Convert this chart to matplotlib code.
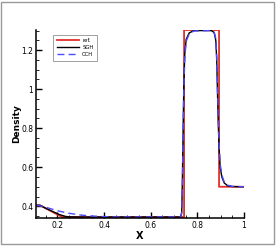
import matplotlib
matplotlib.use("Agg")
import matplotlib.pyplot as plt
from matplotlib.patches import Rectangle
from matplotlib.ticker import MultipleLocator, FuncFormatter

# reference (exact) solution
ref_x = [0.108, 0.125, 0.22, 0.743, 0.743, 0.893, 0.893, 1.0]
ref_y = [0.405, 0.405, 0.345, 0.345, 1.303, 1.303, 0.5, 0.5]

# SGH scheme
sgh_x = [0.108, 0.125, 0.15, 0.18, 0.21, 0.235, 0.25, 0.3, 0.728, 0.733, 0.736,
         0.739, 0.742, 0.746, 0.752, 0.765, 0.785, 0.86, 0.872, 0.879, 0.883,
         0.886, 0.889, 0.893, 0.898, 0.905, 0.915, 0.93, 0.95, 1.0]
sgh_y = [0.405, 0.405, 0.39, 0.373, 0.357, 0.348, 0.346, 0.345, 0.345, 0.37, 0.55,
         0.8, 1.02, 1.18, 1.255, 1.288, 1.3, 1.3, 1.29, 1.25, 1.15,
         1.0, 0.85, 0.7, 0.6, 0.55, 0.52, 0.505, 0.501, 0.5]

# CCH scheme
cch_x = [0.108, 0.12, 0.15, 0.2, 0.25, 0.3, 0.35, 0.4, 0.45, 0.728, 0.733, 0.736,
         0.739, 0.742, 0.746, 0.752, 0.765, 0.785, 0.86, 0.872, 0.879, 0.883,
         0.886, 0.889, 0.893, 0.898, 0.905, 0.915, 0.93, 0.95, 1.0]
cch_y = [0.405, 0.404, 0.395, 0.377, 0.364, 0.355, 0.35, 0.347, 0.345, 0.345, 0.365, 0.52,
         0.78, 1.0, 1.16, 1.245, 1.283, 1.298, 1.3, 1.292, 1.26, 1.17,
         1.02, 0.87, 0.72, 0.615, 0.56, 0.525, 0.508, 0.502, 0.5]

fig = plt.figure(figsize=(2.77, 2.46), dpi=100)
ax = fig.add_axes([36 / 277, 1 - 218 / 246, 208 / 277, 188 / 246])

ax.plot(ref_x, ref_y, color="#e0302a", lw=1.3, label="ref.")
ax.plot(sgh_x, sgh_y, color="black", lw=1.0, label="SGH")
ax.plot(cch_x, cch_y, color="#4a4aff", lw=1.0, ls=(0, (5, 3)), label="CCH")

ax.set_xlim(0.108, 1.0)
ax.set_ylim(0.34, 1.303)

for s in ("top", "right"):
    ax.spines[s].set_visible(False)
for s in ("left", "bottom"):
    ax.spines[s].set_linewidth(1.1)

ax.xaxis.set_major_locator(MultipleLocator(0.2))
ax.xaxis.set_minor_locator(MultipleLocator(0.05))
ax.yaxis.set_major_locator(MultipleLocator(0.2))
ax.yaxis.set_minor_locator(MultipleLocator(0.05))
fmt = FuncFormatter(lambda v, p: f"{v:g}")
ax.xaxis.set_major_formatter(fmt)
ax.yaxis.set_major_formatter(fmt)
ax.tick_params(which="major", direction="in", length=4, width=1.0, labelsize=5.5, pad=2)
ax.tick_params(which="minor", direction="in", length=2, width=0.6)

ax.set_xlabel("X", fontsize=7, fontweight="bold", labelpad=1)
ax.set_ylabel("Density", fontsize=6.5, fontweight="bold", labelpad=0)

leg = ax.legend(loc="upper left", bbox_to_anchor=(0.07, 0.99), fontsize=3.8,
                handlelength=4.2, frameon=True, fancybox=False, borderpad=0.7,
                labelspacing=0.35, handletextpad=0.6)
leg.get_frame().set_edgecolor("#888888")
leg.get_frame().set_linewidth(0.7)

fig.patches.append(Rectangle((1 / 277, 2 / 246), 273 / 277, 242 / 246,
                             transform=fig.transFigure, fill=False,
                             edgecolor="#999999", lw=1.0))

fig.savefig("out.png", dpi=100)
